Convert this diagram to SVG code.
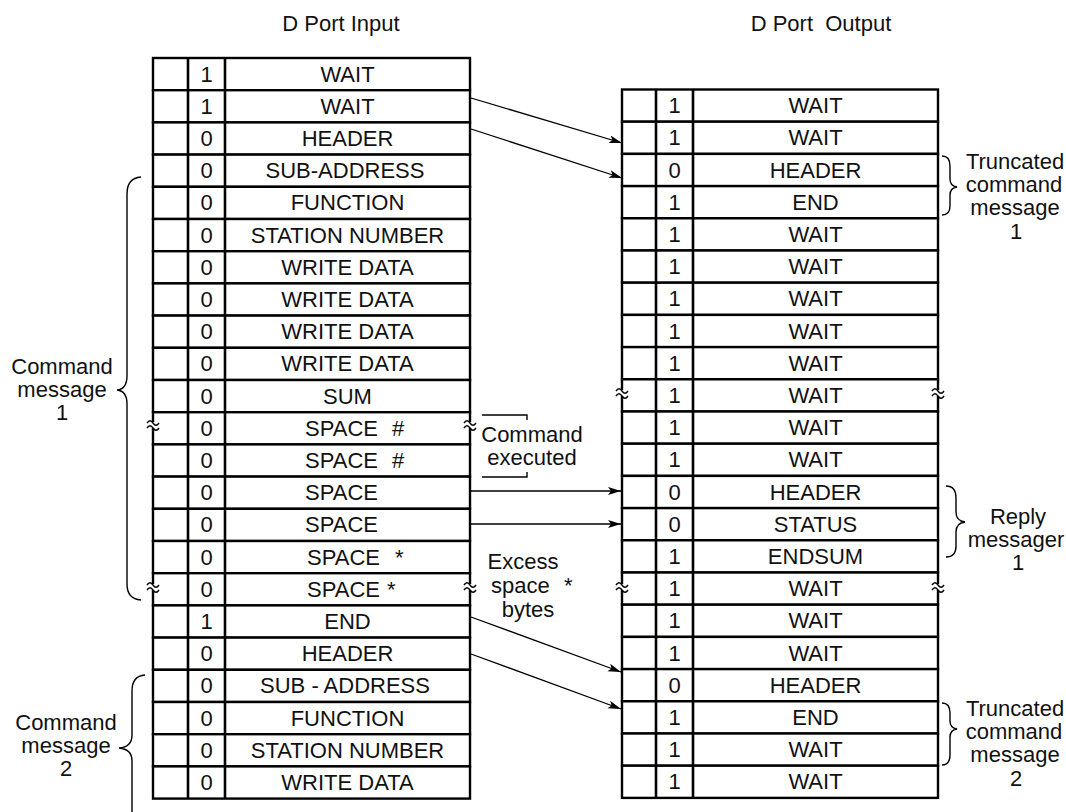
<svg xmlns="http://www.w3.org/2000/svg" width="1066" height="812" viewBox="0 0 1066 812">
<style>
text{font-family:"Liberation Sans",Arial,sans-serif;font-size:22px;fill:#111}
.m{text-anchor:middle}
.row{fill:#fff;stroke:#000;stroke-width:2.4}
.col{stroke:#000;stroke-width:2.6}
.br{fill:none;stroke:#000;stroke-width:1.4}
.cn{stroke:#000;stroke-width:1.3;fill:none}
.gap{fill:#fff}
.tl{fill:none;stroke:#000;stroke-width:1.4}
</style>
<defs>
<marker id="ah" markerWidth="14" markerHeight="10" refX="13" refY="4" orient="auto" markerUnits="userSpaceOnUse">
<path d="M0,0 L13,4 L0,8 L3,4 z" fill="#000"/>
</marker>
</defs>
<rect width="1066" height="812" fill="#fff"/>
<text class="m" x="341" y="31">D Port Input</text>
<text class="m" x="821" y="31" style="white-space:pre">D Port  Output</text>

<g id="input-table">
<g id="in0"><rect class="row" x="153" y="58" width="317" height="32.2"/><text class="m" x="206.5" y="81.6">1</text><text class="m" x="347.5" y="81.6">WAIT</text></g>
<g id="in1"><rect class="row" x="153" y="90.2" width="317" height="32.2"/><text class="m" x="206.5" y="113.8">1</text><text class="m" x="347.5" y="113.8">WAIT</text></g>
<g id="in2"><rect class="row" x="153" y="122.4" width="317" height="32.2"/><text class="m" x="206.5" y="146">0</text><text class="m" x="347.5" y="146">HEADER</text></g>
<g id="in3"><rect class="row" x="153" y="154.6" width="317" height="32.2"/><text class="m" x="206.5" y="178.2">0</text><text class="m" x="345" y="178.2">SUB-ADDRESS</text></g>
<g id="in4"><rect class="row" x="153" y="186.8" width="317" height="32.2"/><text class="m" x="206.5" y="210.4">0</text><text class="m" x="347.5" y="210.4">FUNCTION</text></g>
<g id="in5"><rect class="row" x="153" y="219" width="317" height="32.2"/><text class="m" x="206.5" y="242.6">0</text><text class="m" x="347.5" y="242.6">STATION NUMBER</text></g>
<g id="in6"><rect class="row" x="153" y="251.2" width="317" height="32.2"/><text class="m" x="206.5" y="274.8">0</text><text class="m" x="347.5" y="274.8">WRITE DATA</text></g>
<g id="in7"><rect class="row" x="153" y="283.4" width="317" height="32.2"/><text class="m" x="206.5" y="307">0</text><text class="m" x="347.5" y="307">WRITE DATA</text></g>
<g id="in8"><rect class="row" x="153" y="315.6" width="317" height="32.2"/><text class="m" x="206.5" y="339.2">0</text><text class="m" x="347.5" y="339.2">WRITE DATA</text></g>
<g id="in9"><rect class="row" x="153" y="347.8" width="317" height="32.2"/><text class="m" x="206.5" y="371.4">0</text><text class="m" x="347.5" y="371.4">WRITE DATA</text></g>
<g id="in10"><rect class="row" x="153" y="380" width="317" height="32.2"/><text class="m" x="206.5" y="403.6">0</text><text class="m" x="347.5" y="403.6">SUM</text></g>
<g id="in11"><rect class="row" x="153" y="412.2" width="317" height="32.2"/><text class="m" x="206.5" y="435.8">0</text><text x="305" y="435.8">SPACE<tspan x="392">#</tspan></text></g>
<g id="in12"><rect class="row" x="153" y="444.4" width="317" height="32.2"/><text class="m" x="206.5" y="468">0</text><text x="305" y="468">SPACE<tspan x="392">#</tspan></text></g>
<g id="in13"><rect class="row" x="153" y="476.6" width="317" height="32.2"/><text class="m" x="206.5" y="500.2">0</text><text x="305" y="500.2">SPACE</text></g>
<g id="in14"><rect class="row" x="153" y="508.8" width="317" height="32.2"/><text class="m" x="206.5" y="532.4">0</text><text x="305" y="532.4">SPACE</text></g>
<g id="in15"><rect class="row" x="153" y="541" width="317" height="32.2"/><text class="m" x="206.5" y="564.6">0</text><text x="307" y="564.6">SPACE<tspan x="395">*</tspan></text></g>
<g id="in16"><rect class="row" x="153" y="573.2" width="317" height="32.2"/><text class="m" x="206.5" y="596.8">0</text><text x="307" y="596.8">SPACE<tspan x="387">*</tspan></text></g>
<g id="in17"><rect class="row" x="153" y="605.4" width="317" height="32.2"/><text class="m" x="206.5" y="629">1</text><text class="m" x="347.5" y="629">END</text></g>
<g id="in18"><rect class="row" x="153" y="637.6" width="317" height="32.2"/><text class="m" x="206.5" y="661.2">0</text><text class="m" x="347.5" y="661.2">HEADER</text></g>
<g id="in19"><rect class="row" x="153" y="669.8" width="317" height="32.2"/><text class="m" x="206.5" y="693.4">0</text><text class="m" x="345" y="693.4" style="white-space:pre">SUB - ADDRESS</text></g>
<g id="in20"><rect class="row" x="153" y="702" width="317" height="32.2"/><text class="m" x="206.5" y="725.6">0</text><text class="m" x="347.5" y="725.6">FUNCTION</text></g>
<g id="in21"><rect class="row" x="153" y="734.2" width="317" height="32.2"/><text class="m" x="206.5" y="757.8">0</text><text class="m" x="347.5" y="757.8">STATION NUMBER</text></g>
<g id="in22"><rect class="row" x="153" y="766.4" width="317" height="32.2"/><text class="m" x="206.5" y="790">0</text><text class="m" x="347.5" y="790">WRITE DATA</text></g>
<line class="col" x1="188" y1="58" x2="188" y2="798.6"/>
<line class="col" x1="225" y1="58" x2="225" y2="798.6"/>
</g>

<g id="output-table">
<g id="out0"><rect class="row" x="622" y="89.5" width="316" height="32.2"/><text class="m" x="674.5" y="113.1">1</text><text class="m" x="815.5" y="113.1">WAIT</text></g>
<g id="out1"><rect class="row" x="622" y="121.7" width="316" height="32.2"/><text class="m" x="674.5" y="145.3">1</text><text class="m" x="815.5" y="145.3">WAIT</text></g>
<g id="out2"><rect class="row" x="622" y="153.9" width="316" height="32.2"/><text class="m" x="674.5" y="177.5">0</text><text class="m" x="815.5" y="177.5">HEADER</text></g>
<g id="out3"><rect class="row" x="622" y="186.1" width="316" height="32.2"/><text class="m" x="674.5" y="209.7">1</text><text class="m" x="815.5" y="209.7">END</text></g>
<g id="out4"><rect class="row" x="622" y="218.3" width="316" height="32.2"/><text class="m" x="674.5" y="241.9">1</text><text class="m" x="815.5" y="241.9">WAIT</text></g>
<g id="out5"><rect class="row" x="622" y="250.5" width="316" height="32.2"/><text class="m" x="674.5" y="274.1">1</text><text class="m" x="815.5" y="274.1">WAIT</text></g>
<g id="out6"><rect class="row" x="622" y="282.7" width="316" height="32.2"/><text class="m" x="674.5" y="306.3">1</text><text class="m" x="815.5" y="306.3">WAIT</text></g>
<g id="out7"><rect class="row" x="622" y="314.9" width="316" height="32.2"/><text class="m" x="674.5" y="338.5">1</text><text class="m" x="815.5" y="338.5">WAIT</text></g>
<g id="out8"><rect class="row" x="622" y="347.1" width="316" height="32.2"/><text class="m" x="674.5" y="370.7">1</text><text class="m" x="815.5" y="370.7">WAIT</text></g>
<g id="out9"><rect class="row" x="622" y="379.3" width="316" height="32.2"/><text class="m" x="674.5" y="402.9">1</text><text class="m" x="815.5" y="402.9">WAIT</text></g>
<g id="out10"><rect class="row" x="622" y="411.5" width="316" height="32.2"/><text class="m" x="674.5" y="435.1">1</text><text class="m" x="815.5" y="435.1">WAIT</text></g>
<g id="out11"><rect class="row" x="622" y="443.7" width="316" height="32.2"/><text class="m" x="674.5" y="467.3">1</text><text class="m" x="815.5" y="467.3">WAIT</text></g>
<g id="out12"><rect class="row" x="622" y="475.9" width="316" height="32.2"/><text class="m" x="674.5" y="499.5">0</text><text class="m" x="815.5" y="499.5">HEADER</text></g>
<g id="out13"><rect class="row" x="622" y="508.1" width="316" height="32.2"/><text class="m" x="674.5" y="531.7">0</text><text class="m" x="815.5" y="531.7">STATUS</text></g>
<g id="out14"><rect class="row" x="622" y="540.3" width="316" height="32.2"/><text class="m" x="674.5" y="563.9">1</text><text class="m" x="815.5" y="563.9">ENDSUM</text></g>
<g id="out15"><rect class="row" x="622" y="572.5" width="316" height="32.2"/><text class="m" x="674.5" y="596.1">1</text><text class="m" x="815.5" y="596.1">WAIT</text></g>
<g id="out16"><rect class="row" x="622" y="604.7" width="316" height="32.2"/><text class="m" x="674.5" y="628.3">1</text><text class="m" x="815.5" y="628.3">WAIT</text></g>
<g id="out17"><rect class="row" x="622" y="636.9" width="316" height="32.2"/><text class="m" x="674.5" y="660.5">1</text><text class="m" x="815.5" y="660.5">WAIT</text></g>
<g id="out18"><rect class="row" x="622" y="669.1" width="316" height="32.2"/><text class="m" x="674.5" y="692.7">0</text><text class="m" x="815.5" y="692.7">HEADER</text></g>
<g id="out19"><rect class="row" x="622" y="701.3" width="316" height="32.2"/><text class="m" x="674.5" y="724.9">1</text><text class="m" x="815.5" y="724.9">END</text></g>
<g id="out20"><rect class="row" x="622" y="733.5" width="316" height="32.2"/><text class="m" x="674.5" y="757.1">1</text><text class="m" x="815.5" y="757.1">WAIT</text></g>
<g id="out21"><rect class="row" x="622" y="765.7" width="316" height="32.2"/><text class="m" x="674.5" y="789.3">1</text><text class="m" x="815.5" y="789.3">WAIT</text></g>
<line class="col" x1="656" y1="89.5" x2="656" y2="797.9"/>
<line class="col" x1="693" y1="89.5" x2="693" y2="797.9"/>
</g>

<g id="breaks">
<rect class="gap" x="149" y="422" width="8" height="6"/>
<rect class="gap" x="466" y="422" width="8" height="6"/>
<rect class="gap" x="149" y="584" width="8" height="6"/>
<rect class="gap" x="466" y="584" width="8" height="6"/>
<rect class="gap" x="618" y="390" width="8" height="6"/>
<rect class="gap" x="934" y="390" width="8" height="6"/>
<rect class="gap" x="618" y="584" width="8" height="6"/>
<rect class="gap" x="934" y="584" width="8" height="6"/>
<path class="tl" d="M147,423 c2,-3 4,-3 6,0 s4,3 6,0 M147,428 c2,-3 4,-3 6,0 s4,3 6,0"/>
<path class="tl" d="M464,423 c2,-3 4,-3 6,0 s4,3 6,0 M464,428 c2,-3 4,-3 6,0 s4,3 6,0"/>
<path class="tl" d="M147,585 c2,-3 4,-3 6,0 s4,3 6,0 M147,590 c2,-3 4,-3 6,0 s4,3 6,0"/>
<path class="tl" d="M464,585 c2,-3 4,-3 6,0 s4,3 6,0 M464,590 c2,-3 4,-3 6,0 s4,3 6,0"/>
<path class="tl" d="M616,391 c2,-3 4,-3 6,0 s4,3 6,0 M616,396 c2,-3 4,-3 6,0 s4,3 6,0"/>
<path class="tl" d="M932,391 c2,-3 4,-3 6,0 s4,3 6,0 M932,396 c2,-3 4,-3 6,0 s4,3 6,0"/>
<path class="tl" d="M616,585 c2,-3 4,-3 6,0 s4,3 6,0 M616,590 c2,-3 4,-3 6,0 s4,3 6,0"/>
<path class="tl" d="M932,585 c2,-3 4,-3 6,0 s4,3 6,0 M932,590 c2,-3 4,-3 6,0 s4,3 6,0"/>
</g>

<g id="connectors">
<line class="cn" x1="471" y1="98" x2="622" y2="143" marker-end="url(#ah)"/>
<line class="cn" x1="471" y1="129" x2="622" y2="178" marker-end="url(#ah)"/>
<line class="cn" x1="471" y1="491" x2="621" y2="491" marker-end="url(#ah)"/>
<line class="cn" x1="471" y1="524" x2="621" y2="524" marker-end="url(#ah)"/>
<line class="cn" x1="471" y1="617" x2="621" y2="672" marker-end="url(#ah)"/>
<line class="cn" x1="471" y1="654" x2="621" y2="709" marker-end="url(#ah)"/>
</g>

<g id="cmd1-label">
<path class="br" d="M141,177 Q127,178 127,194 L127,376 Q127,389 117,390 Q127,391 127,404 L127,584 Q127,599 141,600"/>
<text class="m" x="62" y="374">Command</text>
<text class="m" x="62" y="397">message</text>
<text class="m" x="62" y="420">1</text>
</g>
<g id="cmd2-label">
<path class="br" d="M145,675 Q132,676 132,691 L132,735 Q132,747 119,748 Q132,749 132,761 L132,812"/>
<text class="m" x="66" y="730">Command</text>
<text class="m" x="66" y="753">message</text>
<text class="m" x="66" y="776">2</text>
</g>
<g id="trunc1-label">
<path class="br" d="M942,156 Q950,156 950,166 L950,179 Q950,186 957,187 Q950,188 950,195 L950,206 Q950,215 942,215"/>
<text class="m" x="1015" y="169">Truncated</text>
<text class="m" x="1014" y="192">command</text>
<text class="m" x="1015" y="215">message</text>
<text class="m" x="1016" y="239">1</text>
</g>
<g id="reply-label">
<path class="br" d="M946,486 Q956,486 956,498 L956,512 Q956,521 965,522 Q956,523 956,532 L956,546 Q956,557 946,557"/>
<text class="m" x="1018" y="524">Reply</text>
<text class="m" x="1016" y="547">messager</text>
<text class="m" x="1018" y="570">1</text>
</g>
<g id="trunc2-label">
<path class="br" d="M942,703 Q950,703 950,713 L950,721 Q950,728 957,729 Q950,730 950,737 L950,755 Q950,765 942,765"/>
<text class="m" x="1015" y="716">Truncated</text>
<text class="m" x="1014" y="739">command</text>
<text class="m" x="1015" y="762">message</text>
<text class="m" x="1016" y="786">2</text>
</g>
<g id="executed-label">
<path class="tl" d="M482,415 L527,415 L527,420 M482,477 L527,477 L527,472"/>
<text class="m" x="532" y="442">Command</text>
<text class="m" x="532" y="465">executed</text>
</g>
<g id="excess-label">
<text class="m" x="523" y="569">Excess</text>
<text x="491" y="593">space<tspan x="564">*</tspan></text>
<text class="m" x="528" y="617">bytes</text>
</g>
</svg>
